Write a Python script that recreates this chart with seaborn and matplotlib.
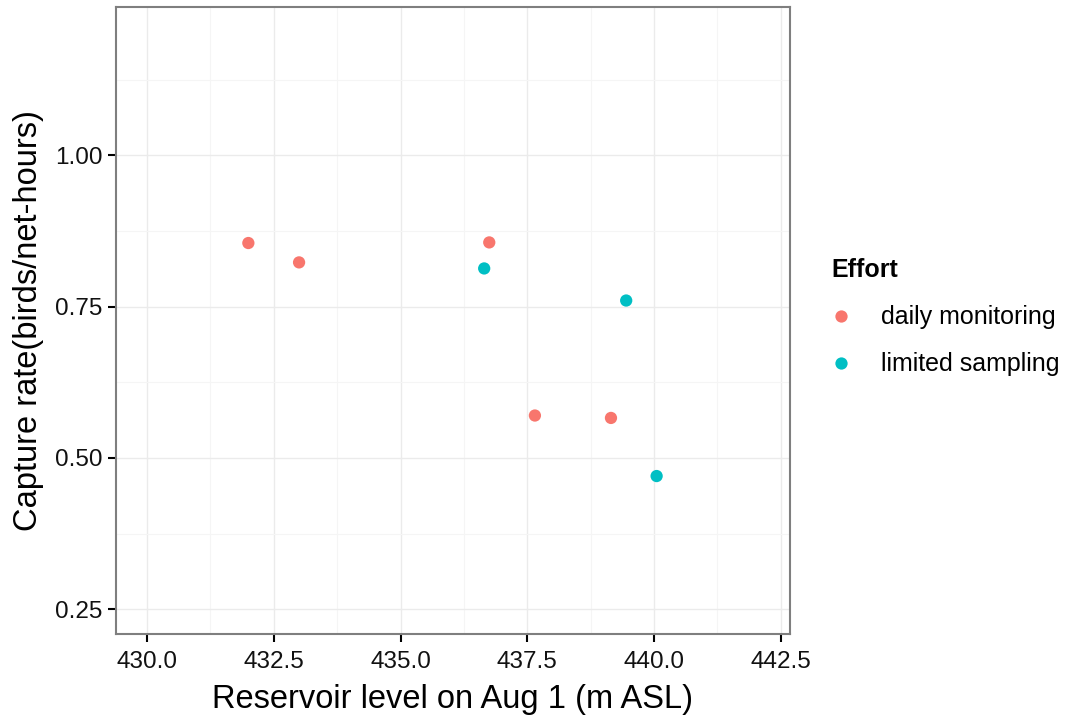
import matplotlib
matplotlib.use("Agg")
import matplotlib.pyplot as plt
from matplotlib.ticker import MultipleLocator
import pandas as pd
import seaborn as sns

# values
reservoir_level = [432.0, 433.0, 436.75, 437.65, 439.15, 436.65, 439.45, 440.05]
capture_rate = [0.855, 0.823, 0.856, 0.570, 0.566, 0.813, 0.760, 0.470]
effort = ["daily monitoring"] * 5 + ["limited sampling"] * 3
effort_levels = ["daily monitoring", "limited sampling"]
effort_colors = ["#F8766D", "#00BFC4"]
x_ticks = [430.0, 432.5, 435.0, 437.5, 440.0, 442.5]
y_ticks = [0.25, 0.50, 0.75, 1.00]

df = pd.DataFrame({"level": reservoir_level, "rate": capture_rate, "Effort": effort})

sns.set_theme(style="white", rc={"text.color": "black", "axes.labelcolor": "black"})
plt.rcParams["font.family"] = ["Liberation Sans", "DejaVu Sans"]

fig = plt.figure(figsize=(10.67, 7.19), dpi=100)
ax = fig.add_axes([0.1087, 0.1182, 0.6317, 0.8721])

sns.scatterplot(data=df, x="level", y="rate", hue="Effort", hue_order=effort_levels,
                palette=effort_colors, s=78, edgecolor="none", ax=ax, zorder=3)

ax.set_xticks(x_ticks)
ax.set_xticklabels([f"{v:.1f}" for v in x_ticks])
ax.set_yticks(y_ticks)
ax.set_yticklabels([f"{v:.2f}" for v in y_ticks])
ax.xaxis.set_minor_locator(MultipleLocator(1.25))
ax.yaxis.set_minor_locator(MultipleLocator(0.125))
ax.set_xlim(429.39, 442.68)
ax.set_ylim(0.209, 1.245)

ax.grid(which="major", color="#ebebeb", linewidth=1.0)
ax.grid(which="minor", color="#f5f5f5", linewidth=0.8)
ax.set_axisbelow(True)
for sp in ax.spines.values():
    sp.set_color("#7f7f7f")
    sp.set_linewidth(1.5)

ax.tick_params(axis="both", which="major", direction="out", length=6, width=1.5,
               color="black", labelsize=17.5, labelcolor="#111111", bottom=True, left=True)
ax.tick_params(axis="x", which="major", pad=6)
ax.tick_params(axis="both", which="minor", length=0)

ax.set_xlabel("Reservoir level on Aug 1 (m ASL)", fontsize=23.5, labelpad=8)
ax.set_ylabel("Capture rate(birds/net-hours)", fontsize=23.5, labelpad=8)

leg = ax.legend(title="Effort", loc="center left", bbox_to_anchor=(1.062, 0.505),
                frameon=False, fontsize=18, title_fontsize=18, markerscale=1.0,
                borderpad=0, borderaxespad=0, handlelength=0.7, handletextpad=1.25,
                labelspacing=0.92)
leg.get_title().set_fontweight("bold")
leg._legend_box.align = "left"

fig.savefig("out.png", dpi=100)
